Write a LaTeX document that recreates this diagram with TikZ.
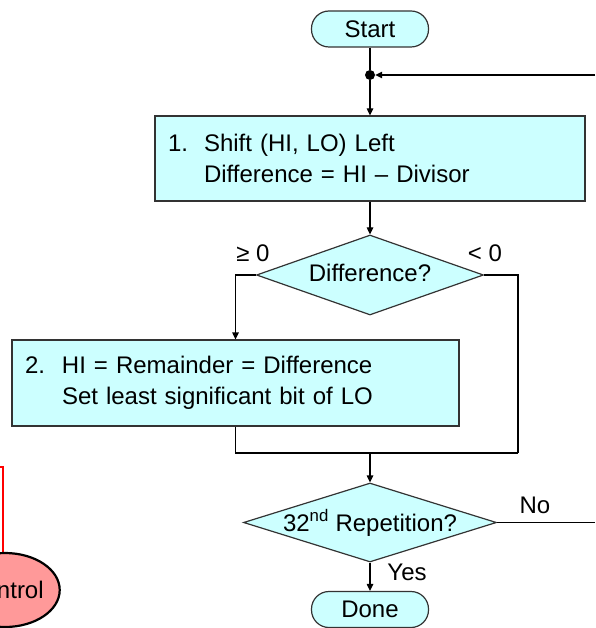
\documentclass[tikz,border=0pt]{standalone}
\usepackage{fontspec}
\setmainfont{Liberation Sans}
\usetikzlibrary{shapes.geometric,arrows.meta}
\definecolor{boxfill}{HTML}{CCFFFF}
\definecolor{ctrlfill}{HTML}{FF9999}
\definecolor{edgegray}{HTML}{333333}
\begin{document}
\begin{tikzpicture}[x=1pt,y=-1pt, font=\fontsize{24}{31}\selectfont,
  term/.style={draw=edgegray, line width=1.2pt, fill=boxfill, rounded corners=17.5pt,
    minimum width=117pt, minimum height=36pt, inner sep=0pt},
  procbox/.style={draw=edgegray, line width=1.2pt, fill=boxfill, inner xsep=13pt,
    inner ysep=0pt, align=left},
  decision/.style={diamond, draw=edgegray, line width=1.2pt, fill=boxfill, inner sep=0pt,
    text height=17pt, text depth=0pt},
  conn/.style={line width=1.2pt, draw=black},
  arr/.style={conn, -{Triangle[length=7pt,width=6.5pt]}},
  lbl/.style={inner sep=0pt}]
\useasboundingbox (0,0) rectangle (595,628);
\clip (0,0) rectangle (595,628);

% partial shapes at the left edge
\draw[red, line width=1.3pt] (-150,467) rectangle (3,580);
\node[ellipse, draw=black, line width=2.2pt, fill=ctrlfill, minimum width=104pt,
  minimum height=74pt, inner sep=0pt] (ctrl) at (5,590) {Control};

% flowchart nodes
\node[term] (start) at (370,29) {Start};
\node[circle, fill=black, inner sep=0pt, minimum size=10pt] (dot) at (370,75) {};
\node[procbox, minimum width=430pt, minimum height=85pt, text width=404pt] (b1) at (370,158.5)
  {\makebox[36pt][l]{1.}Shift (HI, LO) Left\\\hspace*{36pt}Difference = HI – Divisor};
\node[decision, aspect=2.84, minimum width=227pt, minimum height=80pt] (d1) at (370,275)
  {\raisebox{2pt}{Difference?}};
\node[procbox, minimum width=447pt, minimum height=86pt, text width=421pt] (b2) at (235.5,383)
  {\makebox[37pt][l]{2.}HI = Remainder = Difference\\\hspace*{37pt}Set least significant bit of LO};
\node[decision, aspect=3.2, minimum width=253pt, minimum height=79pt] (d2) at (370,522.5)
  {32\textsuperscript{nd} Repetition?};
\node[term] (done) at (370,609.5) {Done};

\coordinate (loopin) at (595,75);
\coordinate (noout) at (595,522.5);
\coordinate (jr) at (518,453);
\coordinate (jm) at (370,453);

% connectors
\draw[conn] (start) -- (dot);
\draw[arr] (dot) -- (b1);
\draw[arr] (loopin) -- (dot);
\draw[arr] (b1) -- (d1);
\draw[arr] (d1.west) -| (b2.north);
\draw[conn] (d1.east) -| (jr);
\draw[conn] (b2.south) |- (jr);
\draw[arr] (jm) -- (d2);
\draw[conn] (d2.east) -- (noout);
\draw[arr] (d2) -- (done);

% labels
\node[lbl] (ge) at (253,253) {≥ 0};
\node[lbl] (lt) at (485,253) {< 0};
\node[lbl] (no) at (535,505) {No};
\node[lbl] (yes) at (407,572) {Yes};
\end{tikzpicture}
\end{document}
